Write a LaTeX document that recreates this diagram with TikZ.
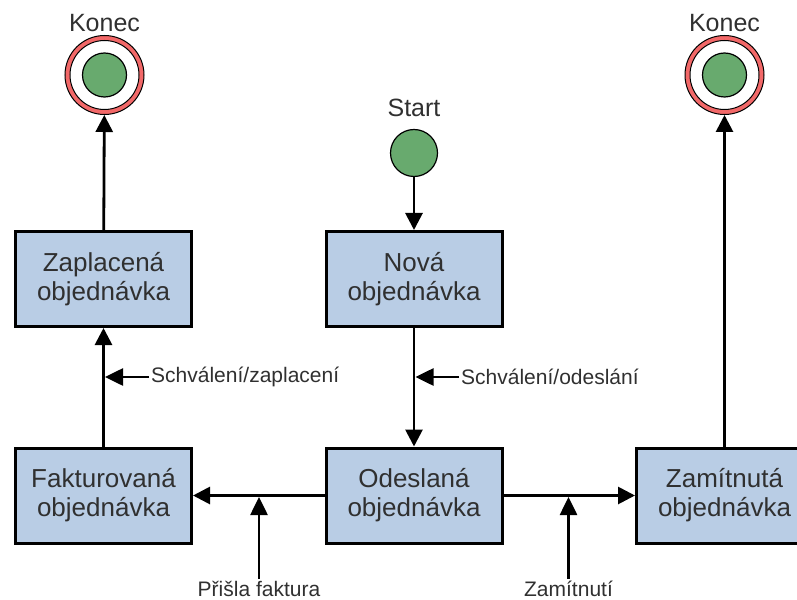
\documentclass[tikz,border=0pt]{standalone}
\usepackage{fontspec}
\setmainfont{Liberation Sans}
\usetikzlibrary{arrows.meta}

\definecolor{stateblue}{RGB}{185,205,229}
\definecolor{nodegreen}{RGB}{104,170,110}
\definecolor{ringred}{RGB}{242,104,104}
\definecolor{txtgray}{RGB}{48,48,48}

\begin{document}
\begin{tikzpicture}[x=1bp,y=-1bp,
  state/.style={rectangle, draw=black, line width=3bp, fill=stateblue,
    minimum width=176bp, minimum height=95bp, inner sep=0pt, align=center,
    text=txtgray, font=\fontsize{26bp}{29bp}\selectfont},
  startdot/.style={circle, draw=black, line width=1.2bp, fill=nodegreen,
    minimum size=47bp, inner sep=0pt},
  endring/.style={circle, draw=black, line width=1bp, fill=ringred,
    minimum size=79bp, inner sep=0pt},
  title/.style={text=txtgray, font=\fontsize{25bp}{28bp}\selectfont, inner sep=0pt},
  lbl/.style={text=txtgray, font=\fontsize{21bp}{24bp}\selectfont, inner sep=2bp},
  flow/.style={draw=black, line width=2.8bp, -{Triangle[length=17bp,width=17bp]}},
  trig/.style={draw=black, line width=2.6bp, -{Triangle[length=18bp,width=17bp]}}
]
\clip (0,0) rectangle (797,600);

% states
\node[state] (zapl)  at (103.5,279)   {Zaplacená\\objednávka};
\node[state] (nova)  at (414,279)     {Nová\\objednávka};
\node[state] (fakt)  at (103.5,495.5) {Fakturovaná\\objednávka};
\node[state] (odes)  at (414,495.5)   {Odeslaná\\objednávka};
\node[state] (zamit) at (724.5,495.5) {Zamítnutá\\objednávka};

% initial state
\node[startdot] (start) at (414,153) {};
\node[title, anchor=base] (starttxt) at (414,117) {Start};

% final states
\node[endring] (end1) at (104.5,75) {};
\fill[white, draw=black, line width=1bp] (end1.center) circle[radius=34.5bp];
\draw[fill=nodegreen, line width=1.2bp] (end1.center) circle[radius=22bp];
\node[title, anchor=base] (end1txt) at (104.5,31.5) {Konec};

\node[endring] (end2) at (724.5,75) {};
\fill[white, draw=black, line width=1bp] (end2.center) circle[radius=34.5bp];
\draw[fill=nodegreen, line width=1.2bp] (end2.center) circle[radius=22bp];
\node[title, anchor=base] (end2txt) at (724.5,31.5) {Konec};

% transitions
\draw[flow] (start) -- (nova);
\draw[flow] (nova) -- (odes);
\draw[flow] (odes) -- (fakt);
\draw[flow] (odes) -- (zamit);
\draw[flow] (fakt) -- (zapl);
\draw[flow] (zapl) -- (end1);
\draw[flow] (zamit) -- (end2);

% events
\node[lbl, anchor=west] (ev1) at (149,377) {Schválení/zaplacení};
\coordinate (ev1tip) at (105,377);
\draw[trig] (ev1.west) -- (ev1tip);

\node[lbl, anchor=west] (ev2) at (459,377) {Schválení/odeslání};
\coordinate (ev2tip) at (415.5,377);
\draw[trig] (ev2.west) -- (ev2tip);

\node[lbl, anchor=base] (ev3) at (259,596.5) {Přišla faktura};
\coordinate (ev3tip) at (259,497);
\draw[trig] (ev3.north) -- (ev3tip);

\node[lbl, anchor=base] (ev4) at (568.5,596.5) {Zamítnutí};
\coordinate (ev4tip) at (568.5,497);
\draw[trig] (ev4.north) -- (ev4tip);
\end{tikzpicture}
\end{document}
